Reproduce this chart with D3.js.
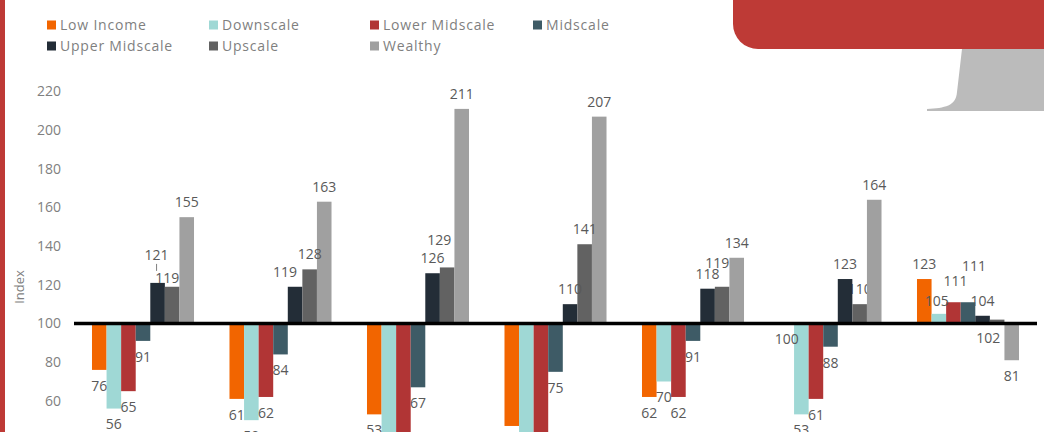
<!DOCTYPE html>
<html>
<head>
    <meta charset="utf-8">
    <style>
        body { margin: 0; background: #fff; }
        svg { display: block; font-family: 'Open Sans', Lato, sans-serif; }
        .tick-label { fill: #7f7f7f; font-size: 14px; }
        .bar-label { fill: #595959; font-size: 14px; }
        .legend-label { fill: #7f7f7f; font-size: 14px; letter-spacing: 0.8px; }
    </style>
</head>
<body>
<svg width="1044" height="432"></svg>

<script src="https://d3js.org/d3.v7.min.js"></script>
<script>
    // segments along the x axis (their names are cut off in the picture)
    const groups = ["Segment 1", "Segment 2", "Segment 3", "Segment 4", "Segment 5", "Segment 6", "Segment 7"];
    const seriesNames = ["Low Income", "Downscale", "Lower Midscale", "Midscale", "Upper Midscale", "Upscale", "Wealthy"];

    const lowIncome     = [76, 61, 53, 47, 62, 100, 123];
    const downscale     = [56, 50, 41, 39, 70, 53, 105];
    const lowerMidscale = [65, 62, 43, 42, 62, 61, 111];
    const midscale      = [91, 84, 67, 75, 91, 88, 111];
    const upperMidscale = [121, 119, 126, 110, 118, 123, 104];
    const upscale       = [119, 128, 129, 141, 119, 110, 102];
    const wealthy       = [155, 163, 211, 207, 134, 164, 81];

    const yTicks = [40, 60, 80, 100, 120, 140, 160, 180, 200, 220];
    const baseValue = 100;

    const colors = ["#f26500", "#9fd8d5", "#b13535", "#3e5b66", "#232d37", "#626262", "#a0a0a0"];

    // hand moved labels like in the original: [group, series, dx, dy]
    const labelNudges = [
        [0, 4, -1, -13], [0, 5, -5, 6], [1, 4, -10, 0], [2, 5, -8, -12],
        [4, 5, -5, -9], [6, 1, -2, 2], [6, 2, 2, -6], [6, 3, 6, -21], [6, 5, -9, 33]
    ];
    // labels that sit behind a bar in the original: [group, series]
    const labelsBehind = [[5, 5]];

    const allSeries = [lowIncome, downscale, lowerMidscale, midscale, upperMidscale, upscale, wealthy];

    let svg = d3.select("svg");

    // decoration: left strip and top right tab
    svg.append("rect").attr("x", 0).attr("y", 0).attr("width", 5).attr("height", 432).style("fill", "#be3a36");
    svg.append("path")
        .attr("d", "M962,49 L1044,49 L1044,111 L927,111 L927,109 C945,108 956,106 957,92 L962,49 Z")
        .style("fill", "#bbbbbb");
    svg.append("path")
        .attr("d", "M733,0 L1044,0 L1044,49 L758,49 A25,25 0 0 1 733,24 Z")
        .style("fill", "#be3a36");

    let x = d3.scaleBand()
        .domain(groups)
        .range([74.25, 1036.75])
        .paddingInner(0.258)
        .paddingOuter(0.129);

    let xInner = d3.scaleBand()
        .domain(seriesNames)
        .range([0, x.bandwidth()]);

    let y = d3.scaleLinear()
        .domain([40, 220])
        .range([439.5, 91.5]);

    // y axis labels
    svg.append("g")
        .selectAll("text")
        .data(yTicks)
        .join("text")
        .attr("class", "tick-label")
        .attr("x", 61)
        .attr("y", d => y(d))
        .attr("dy", "0.35em")
        .attr("text-anchor", "end")
        .text(d => d);

    svg.append("text")
        .attr("class", "tick-label")
        .attr("transform", "translate(24,287) rotate(-90)")
        .attr("text-anchor", "middle")
        .style("font-size", "13px")
        .text("Index");

    let cells = [];
    groups.forEach((g, gi) => {
        seriesNames.forEach((s, si) => {
            cells.push({ group: g, gi: gi, series: s, si: si, value: allSeries[si][gi] });
        });
    });

    function nudge(d) {
        let n = labelNudges.find(e => e[0] == d.gi && e[1] == d.si);
        return n ? [n[2], n[3]] : [0, 0];
    }
    function isBehind(d) {
        return labelsBehind.some(e => e[0] == d.gi && e[1] == d.si);
    }

    function labelX(d) { return x(d.group) + xInner(d.series) + xInner.bandwidth() / 2 + nudge(d)[0]; }
    function labelY(d) {
        let off = d.value > baseValue ? -15 : 16;
        return y(d.value) + off + nudge(d)[1];
    }

    function drawLabels(data) {
        svg.append("g")
            .selectAll("text")
            .data(data)
            .join("text")
            .attr("class", "bar-label")
            .attr("x", labelX)
            .attr("y", labelY)
            .attr("dy", "0.35em")
            .attr("text-anchor", "middle")
            .text(d => d.value);
    }

    drawLabels(cells.filter(isBehind));

    svg.append("g")
        .selectAll("rect")
        .data(cells)
        .join("rect")
        .attr("x", d => x(d.group) + xInner(d.series))
        .attr("width", xInner.bandwidth())
        .attr("y", d => Math.min(y(d.value), y(baseValue)))
        .attr("height", d => Math.abs(y(d.value) - y(baseValue)))
        .style("fill", d => colors[d.si]);

    drawLabels(cells.filter(d => !isBehind(d)));

    // small leader line for the moved 121 label
    let lead = cells.find(d => d.gi == 0 && d.si == 4);
    svg.append("line")
        .attr("x1", labelX(lead)).attr("x2", labelX(lead))
        .attr("y1", labelY(lead) + 9).attr("y2", labelY(lead) + 16)
        .style("stroke", "#7f7f7f").style("stroke-width", 1);

    // baseline at 100
    svg.append("line")
        .attr("x1", 74).attr("x2", 1037)
        .attr("y1", y(baseValue)).attr("y2", y(baseValue))
        .style("stroke", "#000")
        .style("stroke-width", 3.5);

    // legend: 4 columns, 2 rows
    const legendCols = [47, 209, 370, 533];
    let legend = svg.append("g")
        .selectAll("g")
        .data(seriesNames)
        .join("g")
        .attr("transform", (d, i) => "translate(" + legendCols[i % 4] + "," + (25 + Math.floor(i / 4) * 21) + ")");

    legend.append("rect")
        .attr("x", 0).attr("y", -4.5)
        .attr("width", 9).attr("height", 9)
        .style("fill", (d, i) => colors[i]);

    legend.append("text")
        .attr("class", "legend-label")
        .attr("x", 13)
        .attr("dy", "0.35em")
        .text(d => d);
</script>
</body>
</html>
